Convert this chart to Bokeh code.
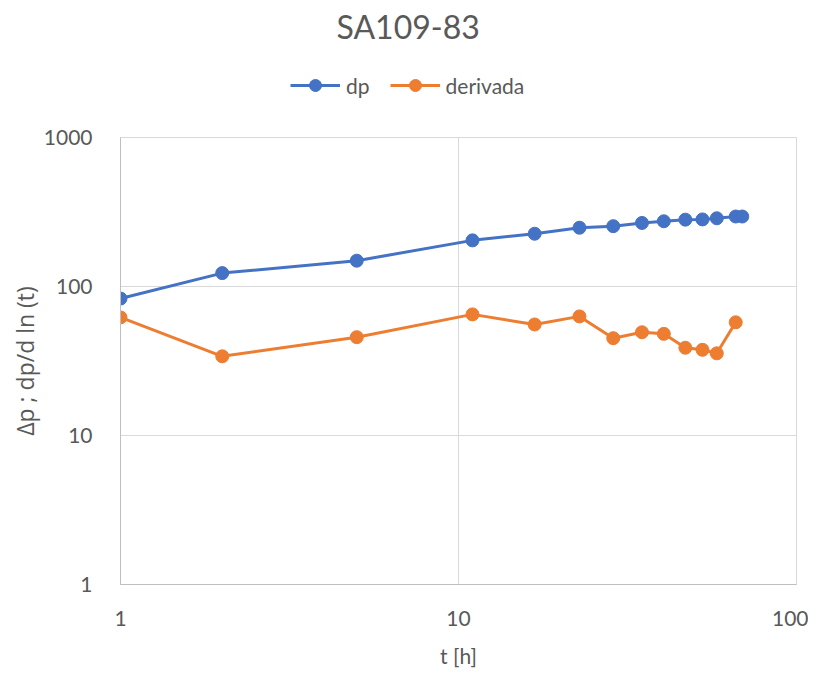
from bokeh.plotting import figure
from bokeh.layouts import column
from bokeh.models import (ColumnDataSource, Legend, LegendItem, FixedTicker,
                          CustomJSTickFormatter)
from bokeh.embed import file_html
from bokeh.resources import INLINE

# ---- data ----
t_dp = [1.0, 2.0, 5.0, 11.0, 16.8, 22.8, 28.7, 34.9, 40.5, 46.9, 52.7, 58.1, 66.1, 69.1]
dp = [83, 123, 149, 204, 226, 248, 254, 267, 274, 281, 282, 287, 295, 295]
t_der = [1.0, 2.0, 5.0, 11.0, 16.8, 22.8, 28.7, 34.9, 40.5, 46.9, 52.7, 58.1, 66.1]
deriv = [62, 34, 45.7, 65, 55.6, 63, 45, 49.3, 48.1, 38.8, 37.6, 35.6, 57.5]
x_ticks = [1, 10, 100]
y_ticks = [1, 10, 100, 1000]
series_names = ["dp", "derivada"]

title_text = "SA109-83"
x_title = "t [h]"
y_title = "\u0394p ; dp/d ln (t)"

FONT = "Lato"
TXT = "#595959"
BLUE = "#4472C4"
ORANGE = "#ED7D31"
GRID = "#D9D9D9"

W = 808
TOP_H = 118
MAIN_H = 552
LEFT, RIGHT = 120, 12

# ---------- top strip: title + legend ----------
top = figure(width=W, height=TOP_H, x_range=(0, 1), y_range=(0, 1),
             x_axis_location=None, y_axis_location=None,
             output_backend="svg", toolbar_location=None,
             min_border_left=LEFT, min_border_right=RIGHT, min_border_bottom=0,
             min_border_top=45, title=title_text)
top.grid.visible = False
top.outline_line_color = None
top.border_fill_color = "white"
top.background_fill_color = "white"
top.title.text_font = FONT
top.title.text_font_size = "32px"
top.title.text_font_style = "normal"
top.title.text_color = TXT
top.title.align = "left"
top.title.offset = 216
top.title.standoff = 9

# legend-only renderers (their single point lies outside the strip's ranges)
dummy = ColumnDataSource(dict(x=[-10], y=[-10]))
dl1 = top.line("x", "y", source=dummy, line_color=BLUE, line_width=3)
ds1 = top.scatter("x", "y", source=dummy, size=13, fill_color=BLUE, line_color=BLUE)
dl2 = top.line("x", "y", source=dummy, line_color=ORANGE, line_width=3)
ds2 = top.scatter("x", "y", source=dummy, size=13, fill_color=ORANGE, line_color=ORANGE)

legend = Legend(items=[LegendItem(label=series_names[0], renderers=[dl1, ds1]),
                       LegendItem(label=series_names[1], renderers=[dl2, ds2])],
                orientation="horizontal", location=(170, TOP_H - 100),
                border_line_color=None, background_fill_alpha=0,
                padding=0, margin=0, spacing=20,
                glyph_width=50, glyph_height=30, label_height=30,
                label_standoff=6,
                label_text_font=FONT, label_text_font_size="21px",
                label_text_color=TXT)
top.add_layout(legend, "center")

# ---------- main chart ----------
p = figure(width=W, height=MAIN_H, x_axis_type="log", y_axis_type="log",
           x_range=(1, 100), y_range=(1, 1000),
           output_backend="svg", toolbar_location=None,
           min_border_left=LEFT, min_border_right=RIGHT,
           min_border_top=137 - TOP_H, min_border_bottom=86)
p.outline_line_color = GRID
p.background_fill_color = "white"
p.border_fill_color = "white"

src_dp = ColumnDataSource(dict(t=t_dp, v=dp))
src_der = ColumnDataSource(dict(t=t_der, v=deriv))

p.line("t", "v", source=src_dp, line_color=BLUE, line_width=3)
p.scatter("t", "v", source=src_dp, size=13, fill_color=BLUE, line_color=BLUE)
p.line("t", "v", source=src_der, line_color=ORANGE, line_width=3)
p.scatter("t", "v", source=src_der, size=13, fill_color=ORANGE, line_color=ORANGE)

for ax in (p.xaxis[0], p.yaxis[0]):
    ax.major_tick_line_color = None
    ax.minor_tick_line_color = None
    ax.axis_line_color = "#BFBFBF"
    ax.major_label_text_font = FONT
    ax.major_label_text_font_size = "21px"
    ax.major_label_text_color = TXT
    ax.axis_label_text_font = FONT
    ax.axis_label_text_font_size = "21px"
    ax.axis_label_text_font_style = "normal"
    ax.axis_label_text_color = TXT
    ax.formatter = CustomJSTickFormatter(code="return String(Math.round(tick));")

p.xaxis[0].ticker = FixedTicker(ticks=x_ticks)
p.yaxis[0].ticker = FixedTicker(ticks=y_ticks)
p.xaxis[0].axis_label = x_title
p.yaxis[0].axis_label = y_title
p.yaxis[0].axis_label_text_font = "Open Sans"
p.yaxis[0].axis_label_text_font_size = "23px"
p.xaxis[0].major_label_standoff = 20
p.xaxis[0].axis_label_standoff = 14
p.yaxis[0].major_label_standoff = 22
p.yaxis[0].axis_label_standoff = 0

for g in (p.xgrid[0], p.ygrid[0]):
    g.grid_line_color = GRID
    g.grid_line_width = 1
    g.minor_grid_line_color = None

layout = column(top, p, spacing=0)
open("out.html", "w").write(file_html(layout, INLINE))
